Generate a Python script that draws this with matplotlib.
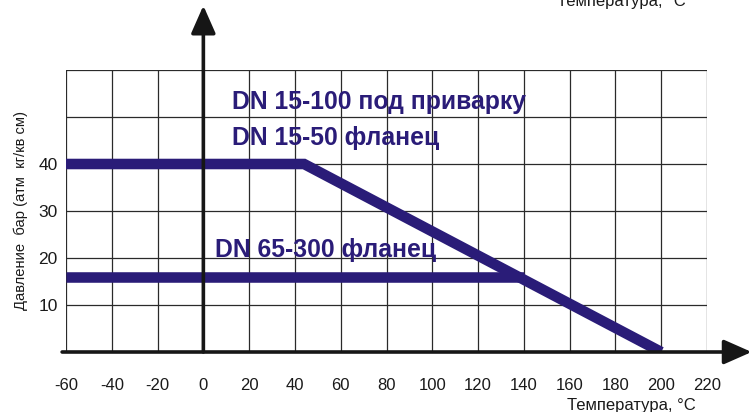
import matplotlib
matplotlib.use("Agg")
import matplotlib.pyplot as plt

plt.rcParams['font.family'] = ['Liberation Sans', 'DejaVu Sans']

# ---- data ----
temp_ticks = [-60, -40, -20, 0, 20, 40, 60, 80, 100, 120, 140, 160, 180, 200, 220]
pressure_ticks = [0, 10, 20, 30, 40, 50, 60]
pressure_labels = ['', '10', '20', '30', '40', '', '']

# DN 15-100 weld / DN 15-50 flange
temp_small = [-60, 44, 200]
pres_small = [40, 40, 0]
# DN 65-300 flange
temp_large = [-60, 140]
pres_large = [16, 16]

label_small_1 = "DN 15-100 под приварку"
label_small_2 = "DN 15-50 фланец"
label_large = "DN 65-300 фланец"
xlabel = "Температура, °C"
ylabel = "Давление  бар (атм  кг/кв см)"

navy = '#2a1c78'
W, H = 751, 412
fig = plt.figure(figsize=(W / 100, H / 100), dpi=100)
ax = fig.add_axes([66 / W, 60 / H, 641 / W, 282 / H])
ax.set_xlim(-60, 220)
ax.set_ylim(0, 60)

ax.set_xticks(temp_ticks)
ax.set_xticklabels([str(t) for t in temp_ticks], fontsize=12)
ax.set_yticks(pressure_ticks)
ax.set_yticklabels(pressure_labels, fontsize=12.5)
ax.tick_params(axis='x', length=0, pad=19, colors='#1a1a1a')
ax.tick_params(axis='y', length=0, pad=6, colors='#1a1a1a')
ax.grid(True, color='#2a2a2a', lw=0.9)
ax.set_axisbelow(True)
for s in ax.spines.values():
    s.set_visible(False)

ax.plot(temp_small, pres_small, color=navy, lw=7.6, solid_capstyle='butt',
        solid_joinstyle='miter', zorder=3)
ax.plot(temp_large, pres_large, color=navy, lw=7.6, solid_capstyle='butt',
        solid_joinstyle='miter', zorder=3)

# axes arrows
arrow_kw = dict(arrowstyle='-|>,head_length=17,head_width=7.5', lw=2.6,
                color='#161616', shrinkA=0, shrinkB=0, mutation_scale=1)
ax.annotate('', xy=(239.5, 0), xytext=(-61.7, 0), arrowprops=arrow_kw,
            annotation_clip=False, zorder=5)
ax.annotate('', xy=(0, 73.7), xytext=(0, 0), arrowprops=arrow_kw,
            annotation_clip=False, zorder=5)

tkw = dict(fontsize=17.8, fontweight='bold', color=navy, ha='left', va='baseline', zorder=4)
ax.text(12.7, 51.7, label_small_1, **tkw)
ax.text(12.7, 44.0, label_small_2, **tkw)
ax.text(5.2, 20.2, label_large, **tkw)

fig.text(21 / W, 1 - 210 / H, ylabel, rotation=90, ha='center', va='center',
         fontsize=10.6, color='#1a1a1a')
fig.text(567 / W, 1 - 410 / H, xlabel, ha='left', va='baseline', fontsize=12,
         color='#1a1a1a')
fig.text(557 / W, 1 - 6 / H, xlabel, ha='left', va='baseline', fontsize=12,
         color='#1a1a1a')

fig.savefig('out.png', dpi=100, facecolor='white')
